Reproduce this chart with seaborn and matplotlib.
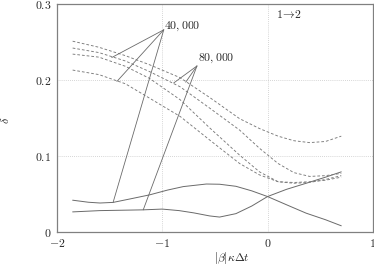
import matplotlib
matplotlib.use("Agg")
import matplotlib.pyplot as plt
import pandas as pd
import seaborn as sns

# solid curves
xa = [-1.85, -1.7, -1.59, -1.466, -1.3, -1.12, -0.95, -0.8, -0.58, -0.455, -0.3, -0.15, 0.0, 0.2, 0.367, 0.55, 0.70]
ya = [0.0417, 0.039, 0.038, 0.0388, 0.0435, 0.0487, 0.055, 0.0596, 0.063, 0.0627, 0.060, 0.054, 0.0465, 0.0345, 0.0246, 0.016, 0.008]
xb = [-1.85, -1.59, -1.38, -1.18, -1.0, -0.84, -0.7, -0.55, -0.455, -0.3, -0.15, 0.0, 0.18, 0.367, 0.55, 0.70]
yb = [0.0263, 0.028, 0.0285, 0.029, 0.030, 0.028, 0.025, 0.021, 0.0195, 0.024, 0.034, 0.0465, 0.056, 0.064, 0.072, 0.079]

# dashed curves
xd = [-1.85, -1.6, -1.35, -1.12, -0.83, -0.55, -0.265, -0.076, 0.1, 0.25, 0.4, 0.55, 0.7]
d1 = [0.251, 0.243, 0.232, 0.220, 0.203, 0.177, 0.149, 0.136, 0.126, 0.120, 0.1175, 0.119, 0.126]
d2 = [0.242, 0.236, 0.225, 0.211, 0.191, 0.163, 0.134, 0.110, 0.090, 0.078, 0.073, 0.074, 0.077]
d3 = [0.234, 0.230, 0.218, 0.202, 0.174, 0.137, 0.101, 0.079, 0.066, 0.064, 0.065, 0.069, 0.074]
d4 = [0.213, 0.207, 0.195, 0.176, 0.152, 0.121, 0.090, 0.075, 0.066, 0.065, 0.066, 0.068, 0.072]

# leader lines: apex -> points on curves
apex40 = (-0.985, 0.266)
ends40 = [(-1.479, 0.2295), (-1.43, 0.198), (-1.466, 0.0388)]
apex80 = (-0.67, 0.2184)
ends80 = [(-0.891, 0.196), (-0.777, 0.197), (-1.18, 0.029)]

xticks = [-2, -1, 0, 1]
yticks = [0, 0.1, 0.2, 0.3]

sns.set_theme(style="white")
plt.rcParams["mathtext.fontset"] = "cm"
plt.rcParams["font.family"] = ["cmr10", "DejaVu Serif"]
plt.rcParams["axes.unicode_minus"] = False

grey = "#6a6a6a"
fig = plt.figure(figsize=(3.74, 2.65), dpi=100)
ax = fig.add_axes([0.152, 0.125, 0.845, 0.86])

for x, y in [(xa, ya), (xb, yb)]:
    sns.lineplot(x=x, y=y, ax=ax, color=grey, lw=0.7, sort=False, estimator=None)
for y in [d1, d2, d3, d4]:
    sns.lineplot(x=xd, y=y, ax=ax, color="#7a7a7a", lw=0.65, sort=False, estimator=None,
                 linestyle=(0, (3, 2.2)))

for apex, ends in [(apex40, ends40), (apex80, ends80)]:
    for e in ends:
        ax.plot([apex[0], e[0]], [apex[1], e[1]], color=grey, lw=0.6)

ax.text(-0.985, 0.270, r"$40,000$", fontsize=8.5, va="center", ha="left")
ax.text(-0.66, 0.2286, r"$80,000$", fontsize=8.5, va="center", ha="left")
ax.text(0.085, 0.2866, r"$1\!\rightarrow\!2$", fontsize=8.5, va="center", ha="left")

ax.set_xlim(-2, 1)
ax.set_ylim(0, 0.3)
ax.set_xticks(xticks)
ax.set_yticks(yticks)
ax.set_xticklabels([r"$-2$", r"$-1$", r"$0$", r"$1$"], fontsize=8.5)
ax.set_yticklabels([r"$0$", r"$0.1$", r"$0.2$", r"$0.3$"], fontsize=8.5)
ax.tick_params(length=0, pad=4)
ax.grid(True, color="#c8c8c8", linestyle=(0, (1, 1.5)), lw=0.6)
for s in ax.spines.values():
    s.set_color("#808080")
    s.set_linewidth(0.9)

ax.set_xlabel(r"$|\beta|\kappa\Delta t$", fontsize=8.5)
ax.set_ylabel(r"$\delta$", fontsize=8.5)
ax.xaxis.set_label_coords((232 - 57) / 316, -0.078)
ax.xaxis.label.set_verticalalignment("top")
ax.yaxis.set_label_coords(-0.145, 0.49)

fig.savefig("out.png", dpi=100)
